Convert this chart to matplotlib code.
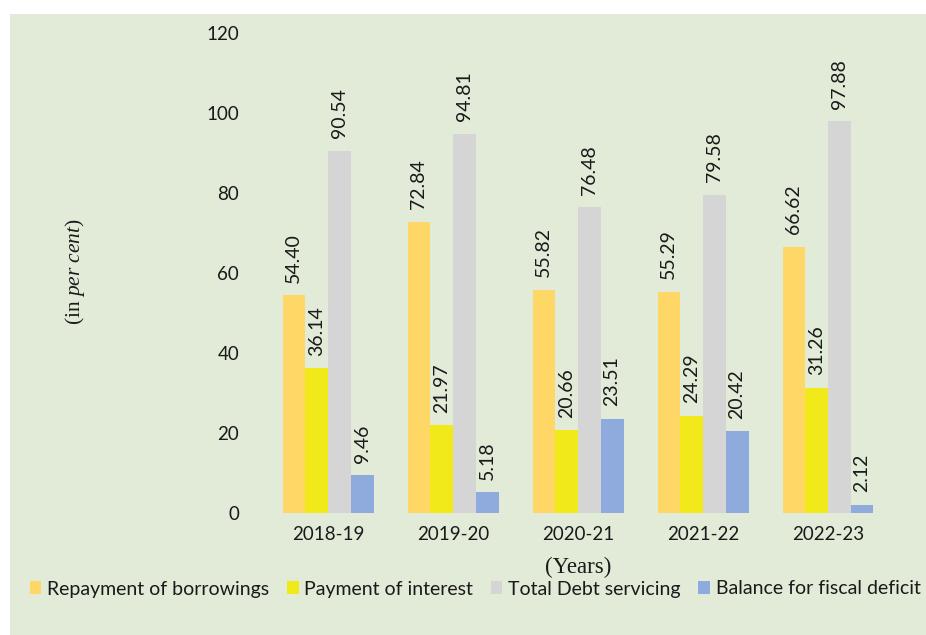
import matplotlib
matplotlib.use("Agg")
import matplotlib.pyplot as plt
import numpy as np

years = ["2018-19", "2019-20", "2020-21", "2021-22", "2022-23"]
series_names = ["Repayment of borrowings", "Payment of interest",
                "Total Debt servicing", "Balance for fiscal deficit"]
repayment = [54.40, 72.84, 55.82, 55.29, 66.62]
interest = [36.14, 21.97, 20.66, 24.29, 31.26]
total_debt = [90.54, 94.81, 76.48, 79.58, 97.88]
balance = [9.46, 5.18, 23.51, 20.42, 2.12]
y_ticks = [0, 20, 40, 60, 80, 100, 120]

colors = ["#FFD766", "#F1E91A", "#D5D5D5", "#8FAADC"]
bg = "#E2EBD8"

plt.rcParams['font.family'] = ['Lato', 'DejaVu Sans']
plt.rcParams['mathtext.fontset'] = 'custom'
plt.rcParams['mathtext.rm'] = 'Liberation Serif'
plt.rcParams['mathtext.it'] = 'Liberation Serif:italic'

W, H = 926, 635
fig = plt.figure(figsize=(W / 100, H / 100), dpi=100)
fig.patch.set_facecolor("white")
fig.patches.append(plt.Rectangle((10 / W, 0), 1 - 10 / W, 1 - 14 / H,
                                 transform=fig.transFigure, facecolor=bg,
                                 edgecolor="none", zorder=-10))

ax_left, ax_right = 265.5 / W, 890.5 / W
ax_bottom, ax_top = (H - 513) / H, (H - 33) / H
ax = fig.add_axes([ax_left, ax_bottom, ax_right - ax_left, ax_top - ax_bottom])
ax.set_facecolor("none")

x = np.arange(len(years))
bw = 0.182
data = [repayment, interest, total_debt, balance]
for i, (vals, c, name) in enumerate(zip(data, colors, series_names)):
    pos = x + (i - 1.5) * bw
    ax.bar(pos, vals, width=bw, color=c, label=name, zorder=2)
    for xp, v in zip(pos, vals):
        ax.annotate(f"{v:.2f}", (xp, v), xytext=(0, 9), textcoords="offset points",
                    rotation=90, ha="center", va="bottom", fontsize=14, color="#1a1a1a")

ax.set_xlim(-0.5, len(years) - 0.5)
ax.set_ylim(0, 120)
ax.set_yticks(y_ticks)
ax.set_xticks(x)
ax.set_xticklabels(years)
ax.tick_params(axis="both", length=0, labelsize=13.5, colors="#1a1a1a")
ax.tick_params(axis="y", pad=19)
ax.tick_params(axis="x", pad=9)
for s in ax.spines.values():
    s.set_visible(False)

fig.text(578 / W, 1 - 567 / H, "(Years)", ha="center", va="center",
         fontsize=16.5, family="Liberation Serif", color="#1a1a1a")
fig.text(75 / W, 1 - 272 / H, r"$\mathrm{(in\ }\mathit{per\ cent}\mathrm{)}$",
         rotation=90, ha="center", va="center", fontsize=15.5, color="#1a1a1a")

leg = fig.legend(loc="center left", bbox_to_anchor=(22 / W, 1 - 589 / H), ncol=4,
                 frameon=False, fontsize=14.0, handlelength=0.6, handleheight=0.6,
                 handletextpad=0.3, columnspacing=0.9, borderaxespad=0)
for t in leg.get_texts():
    t.set_color("#1a1a1a")

fig.savefig("out.png", dpi=100, facecolor=fig.get_facecolor())
